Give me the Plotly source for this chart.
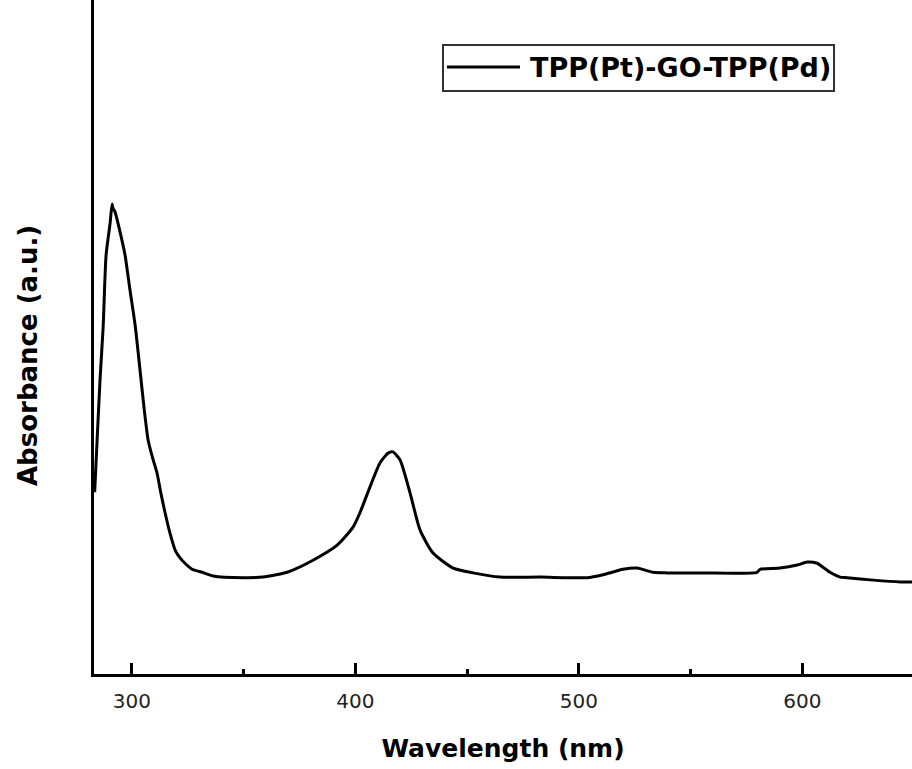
import plotly.graph_objects as go

# Data (wavelength in nm, absorbance in arbitrary units)
wavelength = [283.4, 284.5, 285.8, 287.2, 288.5, 290.3, 291.2, 291.6, 292.5, 294.8,
              297.0, 299.2, 301.5, 303.7, 305.5, 307.3, 309.1, 311.3, 313.1, 314.9,
              317.1, 319.4, 321.6, 323.8, 327.0, 331.5, 336.4, 349.8, 358.7, 369.5,
              381.1, 391.9, 399.0, 402.1, 406.6, 411.1, 414.7, 416.9, 420.0, 424.5,
              429.0, 434.8, 443.8, 452.7, 464.8, 482.7, 503.7, 510.9, 519.8, 526.1,
              533.2, 539.5, 555.6, 579.8, 581.1, 590.1, 597.7, 602.2, 606.6, 612.4,
              616.9, 620.0, 631.7, 643.8, 649.1, 660.0]
absorbance = [0.302, 0.389, 0.489, 0.577, 0.696, 0.749, 0.781, 0.774, 0.768, 0.734,
              0.696, 0.638, 0.580, 0.505, 0.442, 0.389, 0.362, 0.334, 0.299, 0.268,
              0.234, 0.206, 0.193, 0.184, 0.174, 0.169, 0.163, 0.160, 0.161, 0.169,
              0.189, 0.214, 0.244, 0.268, 0.311, 0.351, 0.367, 0.369, 0.356, 0.301,
              0.239, 0.201, 0.176, 0.168, 0.161, 0.161, 0.160, 0.165, 0.174, 0.176,
              0.169, 0.168, 0.168, 0.169, 0.174, 0.176, 0.181, 0.186, 0.184, 0.169,
              0.161, 0.160, 0.156, 0.153, 0.153, 0.152]
series_name = "TPP(Pt)-GO-TPP(Pd)"
x_ticks = [300, 400, 500, 600]
x_title = "Wavelength (nm)"
y_title = "Absorbance (a.u.)"

W, H = 912, 769
L, R, T, B = 94, 0, 0, 95
pw, ph = W - L - R, H - T - B


def px(x):  # pixel -> paper x
    return (x - L) / pw


def py(y):  # pixel -> paper y
    return (H - B - y) / ph


fig = go.Figure()
fig.add_trace(go.Scatter(x=wavelength, y=absorbance, mode="lines", name=series_name,
                         line=dict(color="black", width=3, shape="spline", smoothing=0.6),
                         showlegend=False))

fig.update_layout(
    width=W, height=H,
    margin=dict(l=L, r=R, t=T, b=B),
    paper_bgcolor="white", plot_bgcolor="white",
    showlegend=False,
)
fig.update_xaxes(
    range=[283.1, 283.1 + pw / 2.235], tickvals=x_ticks, ticktext=[str(v) for v in x_ticks],
    ticks="inside", ticklen=11, tickwidth=3, tickcolor="black",
    minor=dict(ticks="inside", ticklen=5, tickwidth=3, tickcolor="black", dtick=50, tick0=250),
    showline=True, linecolor="black", linewidth=3, showgrid=False, zeroline=False,
    tickfont=dict(family="DejaVu Sans", size=20, color="#222"),
    ticklabelstandoff=7,
    title=dict(text="<b>" + x_title + "</b>",
               font=dict(family="DejaVu Sans", size=25, color="black"), standoff=28),
)
fig.update_yaxes(
    range=[0, 1.12], showticklabels=False, ticks="",
    showline=True, linecolor="black", linewidth=3, showgrid=False, zeroline=False,
)

# y-axis title
fig.add_annotation(text="<b>" + y_title + "</b>", xref="paper", yref="paper",
                   x=px(28), y=py(356), textangle=-90, showarrow=False,
                   xanchor="center", yanchor="middle",
                   font=dict(family="DejaVu Sans", size=26, color="black"))

# legend box drawn to match the reference
fig.add_shape(type="rect", xref="paper", yref="paper",
              x0=px(443), x1=px(834), y0=py(91), y1=py(45),
              line=dict(color="#333", width=2), fillcolor="white")
fig.add_shape(type="line", xref="paper", yref="paper",
              x0=px(447), x1=px(520), y0=py(67), y1=py(67),
              line=dict(color="black", width=3))
fig.add_annotation(text="<b>" + series_name + "</b>", xref="paper", yref="paper",
                   x=px(528), y=py(67), xanchor="left", yanchor="middle", showarrow=False,
                   font=dict(family="DejaVu Sans", size=27, color="black"))

fig.write_html("out.html", config={"displayModeBar": False},
               post_script="document.body.style.margin='0';document.body.style.overflow='hidden';")
